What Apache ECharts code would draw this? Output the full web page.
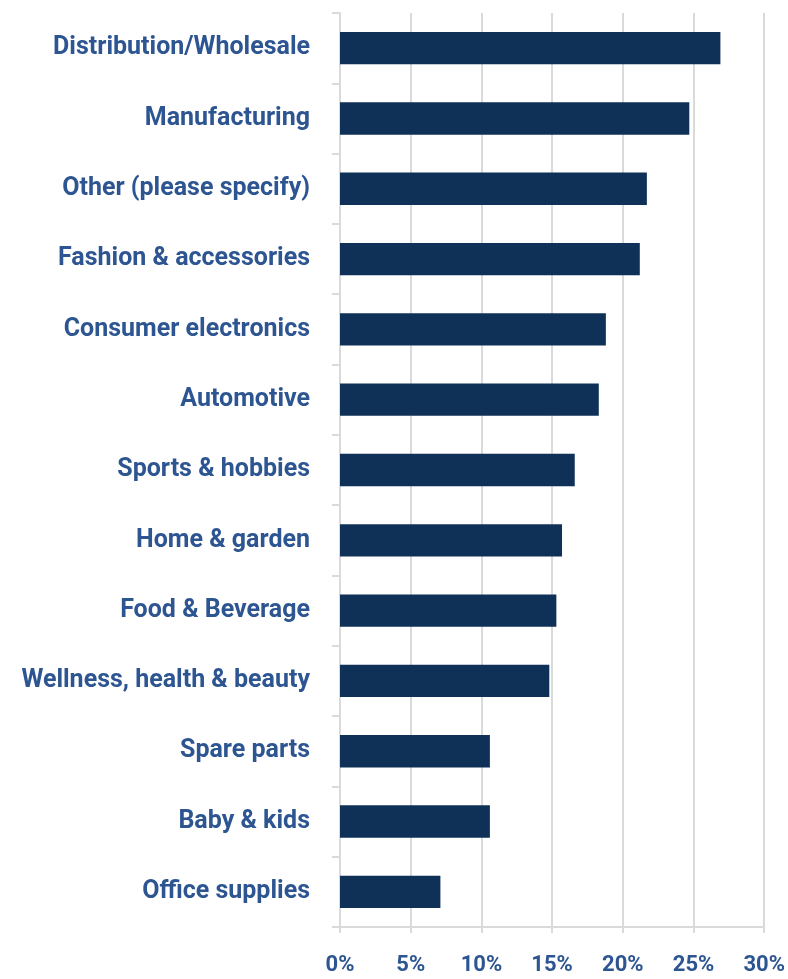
<!DOCTYPE html>
<html>
<head>
<meta charset="utf-8">
<script src="https://cdn.jsdelivr.net/npm/echarts@6/dist/echarts.min.js"></script>
<style>
  html, body { margin: 0; padding: 0; background: #ffffff; }
  #chart { width: 788px; height: 979px; }
</style>
</head>
<body>
<div id="chart"></div>
<script>
// Industry categories, top to bottom
const categories = [
  'Distribution/Wholesale',
  'Manufacturing',
  'Other (please specify)',
  'Fashion & accessories',
  'Consumer electronics',
  'Automotive',
  'Sports & hobbies',
  'Home & garden',
  'Food & Beverage',
  'Wellness, health & beauty',
  'Spare parts',
  'Baby & kids',
  'Office supplies'
];

// Share of respondents, percent
const shares = [26.9, 24.7, 21.7, 21.2, 18.8, 18.3, 16.6, 15.7, 15.3, 14.8, 10.6, 10.6, 7.1];

// Value axis ticks
const xTicks = [0, 5, 10, 15, 20, 25, 30];

const FONT = 'Roboto, "Liberation Sans", sans-serif';
const LABEL_COLOR = '#2d5591';
const BAR_COLOR = '#0f3157';
const GRID_COLOR = '#dadada';

const chart = echarts.init(document.getElementById('chart'), null, { renderer: 'canvas' });

chart.setOption({
  backgroundColor: '#ffffff',
  animation: false,
  grid: { left: 340, right: 23, top: 13, bottom: 52, containLabel: false },
  xAxis: {
    type: 'value',
    min: xTicks[0],
    max: xTicks[xTicks.length - 1],
    interval: xTicks[1] - xTicks[0],
    axisLine: { show: true, lineStyle: { color: GRID_COLOR, width: 2 } },
    axisTick: { show: true, length: 6, lineStyle: { color: GRID_COLOR, width: 2 } },
    splitLine: { show: true, lineStyle: { color: GRID_COLOR, width: 2 } },
    axisLabel: {
      formatter: v => v + '%',
      color: LABEL_COLOR,
      fontFamily: FONT,
      fontWeight: 'bold',
      fontSize: 22,
      margin: 27
    }
  },
  yAxis: {
    type: 'category',
    inverse: true,
    data: categories,
    axisLine: { show: true, lineStyle: { color: GRID_COLOR, width: 2 } },
    axisTick: { show: true, length: 8, lineStyle: { color: GRID_COLOR, width: 2 } },
    axisLabel: {
      color: LABEL_COLOR,
      fontFamily: FONT,
      fontWeight: 'bold',
      fontSize: 25,
      margin: 30
    }
  },
  series: [{
    type: 'bar',
    data: shares,
    barCategoryGap: '54%',
    itemStyle: { color: BAR_COLOR },
    silent: true
  }]
});
</script>
</body>
</html>
